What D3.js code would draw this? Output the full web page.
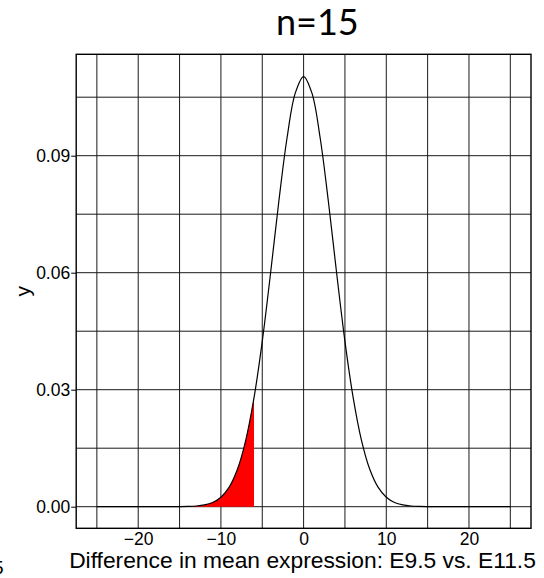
<!DOCTYPE html>
<html><head><meta charset="utf-8">
<script src="https://cdn.jsdelivr.net/npm/d3@7"></script>
<style>body{margin:0;background:#fff}svg{display:block}</style>
</head><body>
<script>
// density curve
const xs = [-25,-24,-23,-22,-21,-20,-19,-18,-17,-16,-15,-14,-13,-12,-11,-10,-9,-8,-7,-6,-5,-4,-3,-2,-1,0,1,2,3,4,5,6,7,8,9,10,11,12,13,14,15,16,17,18,19,20,21,22,23,24,25];
const ys = [0,0,0,0,0,0,0,0,0,0.000005,0.00002,0.000062,0.000175,0.000453,0.00109,0.00243,0.00501,0.00959,0.0170,0.0279,0.0424,0.0598,0.0782,0.0946,0.1061,0.1103,0.1061,0.0946,0.0782,0.0598,0.0424,0.0279,0.0170,0.00959,0.00501,0.00243,0.00109,0.000453,0.000175,0.000062,0.00002,0.000005,0,0,0,0,0,0,0,0,0];
const shadeEnd = -6;
const xTicks = [-20,-10,0,10,20];
const xGrid = [-25,-20,-15,-10,-5,0,5,10,15,20,25];
const yTicks = [0,0.03,0.06,0.09];
const yGrid = [0,0.015,0.03,0.045,0.06,0.075,0.09,0.105];
const title = "n=15";
const xLabel = "Difference in mean expression: E9.5 vs. E11.5";
const yLabel = "y";

const W=544,H=578;
const L=76.2,R=531,T=54.3,B=528.3;
const svg=d3.select("body").append("svg").attr("width",W).attr("height",H);
const x=d3.scaleLinear().domain([-27.5,27.5]).range([L,R]);
const y=d3.scaleLinear().domain([-0.00554,0.1160]).range([B,T]);
const data=xs.map((v,i)=>({x:v,y:ys[i]}));
const font="Liberation Sans, Arial, Helvetica, sans-serif";

// grid
svg.append("g").selectAll("line").data(xGrid).join("line")
 .attr("x1",d=>x(d)).attr("x2",d=>x(d)).attr("y1",T).attr("y2",B)
 .attr("stroke","#1a1a1a").attr("stroke-width",1);
svg.append("g").selectAll("line").data(yGrid).join("line")
 .attr("y1",d=>y(d)).attr("y2",d=>y(d)).attr("x1",L).attr("x2",R)
 .attr("stroke","#1a1a1a").attr("stroke-width",1);

// shaded area
const shade=data.filter(d=>d.x<=shadeEnd);
svg.append("path").datum(shade)
 .attr("d",d3.area().x(d=>x(d.x)).y0(y(0)).y1(d=>y(d.y)).curve(d3.curveCatmullRom))
 .attr("fill","#ff0000");

// curve
svg.append("path").datum(data)
 .attr("d",d3.line().x(d=>x(d.x)).y(d=>y(d.y)).curve(d3.curveCatmullRom))
 .attr("fill","none").attr("stroke","#000").attr("stroke-width",1.2);

// frame
svg.append("rect").attr("x",L).attr("y",T).attr("width",R-L).attr("height",B-T)
 .attr("fill","none").attr("stroke","#000").attr("stroke-width",1.4);

// y axis
const ya=svg.append("g").attr("transform",`translate(${L},0)`)
 .call(d3.axisLeft(y).tickValues(yTicks).tickFormat(d3.format(".2f")).tickSize(5).tickPadding(1));
ya.select(".domain").remove();
ya.selectAll("line").attr("stroke","#000");
ya.selectAll("text").attr("font-family",font).attr("font-size",17.5).attr("fill","#000");

// x axis labels
const xa=svg.append("g").attr("transform",`translate(0,${B})`)
 .call(d3.axisBottom(x).tickValues(xTicks).tickFormat(d3.format("d")).tickSize(0).tickPadding(4.5));
xa.select(".domain").remove();
xa.selectAll("text").attr("font-family",font).attr("font-size",17.5).attr("fill","#000");

svg.append("text").attr("x",302.5).attr("y",568.3).attr("text-anchor","middle")
 .attr("font-family",font).attr("font-size",22.8).text(xLabel);
svg.append("text").attr("transform",`translate(30,${(T+B)/2}) rotate(-90)`).attr("text-anchor","middle")
 .attr("font-family",font).attr("font-size",21).text(yLabel);
svg.append("text").attr("x",317.3).attr("y",35).attr("text-anchor","middle")
 .attr("font-family","Lato, Open Sans, sans-serif").attr("font-size",36).text(title);
svg.append("text").attr("x",-7).attr("y",574)
 .attr("font-family",font).attr("font-size",19).text("5");
</script>
</body></html>
